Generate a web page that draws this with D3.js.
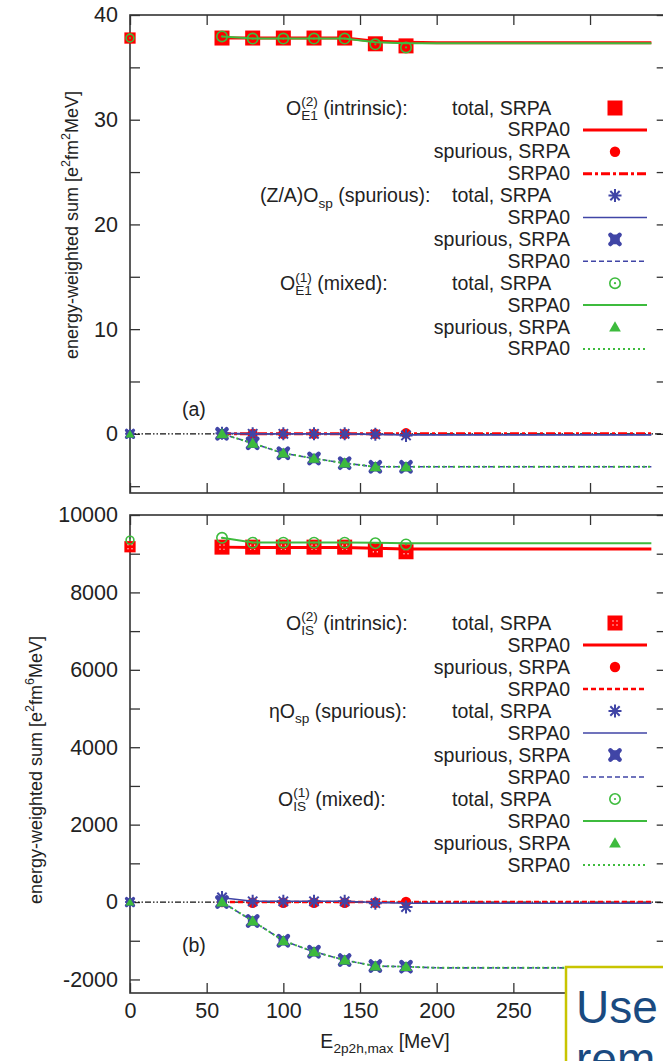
<!DOCTYPE html>
<html><head><meta charset="utf-8">
<script src="https://cdn.jsdelivr.net/npm/d3@7"></script>
<style>
body{margin:0;background:#fff;}
svg{display:block;font-family:"Liberation Sans",Arial,Helvetica,sans-serif;}
svg text{white-space:pre;}
</style>
</head><body>
<svg id="c" width="663" height="1061"></svg>
<script>
// ---------------- data ----------------
const xMarks = [0,60,80,100,120,140,160,180];
const xCurve = [60,80,100,120,140,160,180,200,220,240,260,280,300,320,340];
const xTicks = [0,50,100,150,200,250,300,350];
const xTickLabels = ["0","50","100","150","200","250","",""]; // 300/350 hidden behind the callout box

// panel (a): E1
const aTicks = [-5,0,5,10,15,20,25,30,35,40];
const aIntrTotal  = [37.8,37.8,37.8,37.8,37.8,37.8,37.25,37.05];
const aIntrTotal0 = [37.8,37.8,37.8,37.8,37.8,37.5,37.4,37.35,37.35,37.35,37.35,37.35,37.35,37.35,37.35];
const aIntrSpur   = [0,0,0,0,0,0,0,0.05];
const aIntrSpur0  = [0,0,0,0,0,0,0,0,0,0,0,0,0,0,0];
const aSpTotal    = [0,0.05,0,0,0,0,-0.05,-0.15];
const aSpTotal0   = [0.05,0,0,0,0,-0.05,-0.1,-0.1,-0.1,-0.1,-0.1,-0.1,-0.1,-0.1,-0.1];
const aSpSpur     = [0,0,-0.9,-1.85,-2.35,-2.8,-3.15,-3.15];
const aSpSpur0    = [0,-0.9,-1.85,-2.35,-2.8,-3.15,-3.15,-3.15,-3.15,-3.15,-3.15,-3.15,-3.15,-3.15,-3.15];
const aMixTotal   = [37.8,37.95,37.75,37.75,37.75,37.75,37.2,36.9];
const aMixTotal0  = [37.95,37.75,37.75,37.75,37.75,37.4,37.3,37.3,37.3,37.3,37.3,37.3,37.3,37.3,37.3];
const aMixSpur    = [0,0,-0.9,-1.85,-2.35,-2.8,-3.15,-3.15];
const aMixSpur0   = [0,-0.9,-1.85,-2.35,-2.8,-3.15,-3.15,-3.15,-3.15,-3.15,-3.15,-3.15,-3.15,-3.15,-3.15];

// panel (b): IS
const bTicks = [-2000,-1000,0,1000,2000,3000,4000,5000,6000,7000,8000,9000,10000];
const bIntrTotal  = [9180,9170,9170,9170,9170,9170,9100,9050];
const bIntrTotal0 = [9170,9160,9160,9160,9160,9140,9120,9120,9120,9120,9120,9120,9120,9120,9120];
const bIntrSpur   = [0,0,-20,-20,-20,-20,-20,0];
const bIntrSpur0  = [0,0,0,0,0,0,0,0,0,0,0,0,0,0,0];
const bSpTotal    = [0,120,20,20,20,20,-30,-130];
const bSpTotal0   = [110,20,20,20,20,-10,-30,-30,-30,-30,-30,-30,-30,-30,-30];
const bSpSpur     = [0,0,-490,-1000,-1285,-1500,-1655,-1670];
const bSpSpur0    = [0,-490,-1000,-1285,-1500,-1655,-1670,-1700,-1700,-1700,-1700,-1700,-1700,-1700,-1700];
const bMixTotal   = [9350,9410,9285,9285,9285,9285,9270,9240];
const bMixTotal0  = [9410,9290,9290,9290,9290,9280,9270,9270,9270,9270,9270,9270,9270,9270,9270];
const bMixSpur    = [0,0,-490,-1000,-1285,-1500,-1655,-1670];
const bMixSpur0   = [0,-490,-1000,-1285,-1500,-1655,-1670,-1700,-1700,-1700,-1700,-1700,-1700,-1700,-1700];

const rowLabels = ["total, SRPA","SRPA0","spurious, SRPA","SRPA0"];

// ---------------- drawing ----------------
const RED="#ff0000", BLUE="#4045a6", GREEN="#3dbb3d", AX="#333";
const svg = d3.select("#c");
const x = d3.scaleLinear().domain([0,350]).range([130,666.7]);

function txt(g){ return g.append("text").attr("xml:space","preserve"); }

function rich(g, x0, y0, parts, fs){
  let cx = x0;
  parts.forEach(p=>{
    if(typeof p === "string"){
      const t = txt(g).attr("x",cx).attr("y",y0).attr("font-size",fs).attr("fill","#222").text(p);
      cx += t.node().getComputedTextLength();
    } else {
      let w = 0; const fs2 = fs*0.7;
      if(p.sup){ const t=txt(g).attr("x",cx).attr("y",y0-fs*0.42).attr("font-size",fs2).attr("fill","#222").text(p.sup); w=Math.max(w,t.node().getComputedTextLength()); }
      if(p.sub){ const t=txt(g).attr("x",cx).attr("y",y0+fs*0.28).attr("font-size",fs2).attr("fill","#222").text(p.sub); w=Math.max(w,t.node().getComputedTextLength()); }
      cx += w;
    }
  });
  return cx - x0;
}

function marker(g, type, cx, cy, s){
  s = s || 1;
  if(type==="sq"){
    g.append("rect").attr("x",cx-7.5*s).attr("y",cy-7.5*s).attr("width",15*s).attr("height",15*s).attr("fill",RED);
  } else if(type==="sqd"){
    g.append("rect").attr("x",cx-7.5*s).attr("y",cy-7.5*s).attr("width",15*s).attr("height",15*s).attr("fill",RED);
    [[-2,-2],[2,-2],[-2,2],[2,2]].forEach(d=>g.append("rect").attr("x",cx+d[0]-0.6).attr("y",cy+d[1]-0.6).attr("width",1.2).attr("height",1.2).attr("fill","#fff"));
  } else if(type==="dot"){
    g.append("circle").attr("cx",cx).attr("cy",cy).attr("r",5.2*s).attr("fill",RED);
  } else if(type==="ast"){
    const r=6.5*s, q=r*0.72;
    g.append("path").attr("d",`M${cx-r},${cy}H${cx+r}M${cx},${cy-r}V${cy+r}M${cx-q},${cy-q}L${cx+q},${cy+q}M${cx-q},${cy+q}L${cx+q},${cy-q}`)
      .attr("stroke",BLUE).attr("stroke-width",2).attr("fill","none");
  } else if(type==="fx"){
    const r=4.6*s;
    g.append("path").attr("d",`M${cx-r},${cy-r}L${cx+r},${cy+r}M${cx-r},${cy+r}L${cx+r},${cy-r}`)
      .attr("stroke",BLUE).attr("stroke-width",4.5*s).attr("stroke-linecap","round");
    g.append("rect").attr("x",cx-4.8*s).attr("y",cy-4.8*s).attr("width",9.6*s).attr("height",9.6*s).attr("rx",1.5).attr("fill",BLUE);
  } else if(type==="oc"){
    g.append("circle").attr("cx",cx).attr("cy",cy).attr("r",5.2*s).attr("fill","none").attr("stroke",GREEN).attr("stroke-width",1.6);
    g.append("circle").attr("cx",cx).attr("cy",cy).attr("r",1.1).attr("fill",GREEN);
  } else if(type==="tri"){
    g.append("path").attr("transform",`translate(${cx},${cy+1})`).attr("d",d3.symbol(d3.symbolTriangle,60*s*s)()).attr("fill",GREEN);
  }
}

function drawPanel(cfg){
  const g = svg.append("g");
  const y = cfg.y;
  const [L,R] = x.range(); const [B,T] = y.range();
  const left = d3.axisLeft(y).tickValues(cfg.ticks).tickSize(-10).tickPadding(12)
    .tickFormat(d=> cfg.label(d));
  const right = d3.axisRight(y).tickValues(cfg.ticks).tickSize(-10).tickFormat("");
  const top = d3.axisTop(x).tickValues(xTicks).tickSize(-10).tickFormat("");
  const bottom = d3.axisBottom(x).tickValues(xTicks).tickSize(-10).tickPadding(10)
    .tickFormat((d,i)=> cfg.xlabels ? xTickLabels[i] : "");
  const fixAx = sel => { sel.select(".domain").remove(); sel.selectAll(".tick line").attr("stroke",AX).attr("stroke-width",1.3);
    sel.selectAll("text").attr("font-size",21.5).attr("fill","#222"); sel.attr("font-family",null).attr("font-size",null);
    sel.selectAll("text").filter(function(){ return this.textContent===""; }).remove(); };
  g.append("g").attr("transform",`translate(${L},0)`).call(left).call(fixAx);
  g.append("g").attr("transform",`translate(${R},0)`).call(right).call(fixAx);
  g.append("g").attr("transform",`translate(0,${T})`).call(top).call(fixAx);
  g.append("g").attr("transform",`translate(0,${B})`).call(bottom).call(fixAx);
  g.append("rect").attr("x",L).attr("y",T).attr("width",R-L).attr("height",B-T)
    .attr("fill","none").attr("stroke",AX).attr("stroke-width",1.6);

  g.append("line").attr("x1",x(0)).attr("x2",x(350)).attr("y1",y(0)).attr("y2",y(0))
    .attr("stroke","#111").attr("stroke-width",1.2).attr("stroke-dasharray","6,2,1.5,2,1.5,2");

  const line = d3.line().x(d=>x(d[0])).y(d=>y(d[1]));
  cfg.series.forEach(s=>{
    if(s.kind==="m"){
      s.vals.forEach((v,i)=>marker(g, s.type, x(xMarks[i]), y(v), i===0 ? 0.75 : 1));
    } else {
      g.append("path").datum(xCurve.map((xv,i)=>[xv,s.vals[i]])).attr("d",line)
        .attr("fill","none").attr("stroke",s.color).attr("stroke-width",s.w)
        .attr("stroke-dasharray",s.dash||null);
    }
  });

  const lg = svg.append("g");
  const fs = 19.5;
  cfg.series.forEach((s,i)=>{
    const cy = cfg.legY + i*cfg.legStep;
    const lab = rowLabels[i%4];
    if(i%4===0){
      txt(lg).attr("x",452).attr("y",cy+6.5).attr("font-size",fs).attr("fill","#222").text(lab);
    } else {
      txt(lg).attr("x",570).attr("y",cy+6.5).attr("font-size",fs).attr("text-anchor","end").attr("fill","#222").text(lab);
    }
    if(s.kind==="m") marker(lg, s.type, 615, cy, 1);
    else lg.append("line").attr("x1",583).attr("x2",647).attr("y1",cy).attr("y2",cy)
      .attr("stroke",s.color).attr("stroke-width",s.w).attr("stroke-dasharray",s.dash||null);
  });
  cfg.groups.forEach((gr,k)=>{
    rich(lg, gr.x, cfg.legY + k*4*cfg.legStep + 6.5, gr.parts, fs);
  });

  txt(g).attr("x",cfg.tag[0]).attr("y",cfg.tag[1]).attr("font-size",19.5).attr("fill","#222").text(cfg.tagText);

  const tg = svg.append("g");
  const w = rich(tg, 0, 0, cfg.title, 18);
  tg.attr("transform",`translate(${cfg.titlePos[0]},${cfg.titlePos[1]}) rotate(-90) translate(${-w/2},6)`);
}

const yA = d3.scaleLinear().domain([-5.65,40]).range([493,15]);
const yB = d3.scaleLinear().domain([-2350,10000]).range([993,515]);

drawPanel({
  y: yA, ticks: aTicks, label: d => (d%10===0 ? d : ""), xlabels:false,
  series: [
    {kind:"m", type:"sq", vals:aIntrTotal},
    {kind:"l", vals:aIntrTotal0, color:RED, w:3},
    {kind:"m", type:"dot", vals:aIntrSpur},
    {kind:"l", vals:aIntrSpur0, color:RED, w:3, dash:"9,3,3,3"},
    {kind:"m", type:"ast", vals:aSpTotal},
    {kind:"l", vals:aSpTotal0, color:BLUE, w:1.6},
    {kind:"m", type:"fx", vals:aSpSpur},
    {kind:"l", vals:aSpSpur0, color:BLUE, w:1.6, dash:"5,3"},
    {kind:"m", type:"oc", vals:aMixTotal},
    {kind:"l", vals:aMixTotal0, color:GREEN, w:2},
    {kind:"m", type:"tri", vals:aMixSpur},
    {kind:"l", vals:aMixSpur0, color:GREEN, w:2, dash:"2,3"}
  ],
  legY: 108, legStep: 21.9,
  groups: [
    {x:286, parts:["O",{sup:"(2)",sub:"E1"}," (intrinsic):"]},
    {x:260, parts:["(Z/A)O",{sub:"sp"}," (spurious):"]},
    {x:280, parts:["O",{sup:"(1)",sub:"E1"}," (mixed):"]}
  ],
  tag:[182,416], tagText:"(a)",
  title:["energy-weighted sum [e",{sup:"2"},"fm",{sup:"2"},"MeV]"], titlePos:[72,225]
});

drawPanel({
  y: yB, ticks: bTicks, label: d => (d%2000===0 ? d : ""), xlabels:true,
  series: [
    {kind:"m", type:"sqd", vals:bIntrTotal},
    {kind:"l", vals:bIntrTotal0, color:RED, w:3},
    {kind:"m", type:"dot", vals:bIntrSpur},
    {kind:"l", vals:bIntrSpur0, color:RED, w:2.5, dash:"5,3"},
    {kind:"m", type:"ast", vals:bSpTotal},
    {kind:"l", vals:bSpTotal0, color:BLUE, w:1.6},
    {kind:"m", type:"fx", vals:bSpSpur},
    {kind:"l", vals:bSpSpur0, color:BLUE, w:1.6, dash:"5,3"},
    {kind:"m", type:"oc", vals:bMixTotal},
    {kind:"l", vals:bMixTotal0, color:GREEN, w:2},
    {kind:"m", type:"tri", vals:bMixSpur},
    {kind:"l", vals:bMixSpur0, color:GREEN, w:2, dash:"2,3"}
  ],
  legY: 623, legStep: 22,
  groups: [
    {x:286, parts:["O",{sup:"(2)",sub:"IS"}," (intrinsic):"]},
    {x:269, parts:["\u03B7O",{sub:"sp"}," (spurious):"]},
    {x:278, parts:["O",{sup:"(1)",sub:"IS"}," (mixed):"]}
  ],
  tag:[182,952], tagText:"(b)",
  title:["energy-weighted sum [e",{sup:"2"},"fm",{sup:"6"},"MeV]"], titlePos:[36,770]
});

const xt = svg.append("g");
const xw = rich(xt, 0, 0, ["E",{sub:"2p2h,max"}," [MeV]"], 19.5);
xt.attr("transform",`translate(${385 - xw/2},1048)`);

const box = svg.append("g");
box.append("rect").attr("x",566).attr("y",967).attr("width",200).attr("height",200)
  .attr("fill","#fff").attr("stroke","#c8c400").attr("stroke-width",2.5);
txt(box).attr("x",576).attr("y",1023).attr("font-size",46).attr("fill","#1a4a80").text("Use");
txt(box).attr("x",576).attr("y",1075).attr("font-size",46).attr("fill","#1a4a80").text("rem");
</script>
</body></html>
